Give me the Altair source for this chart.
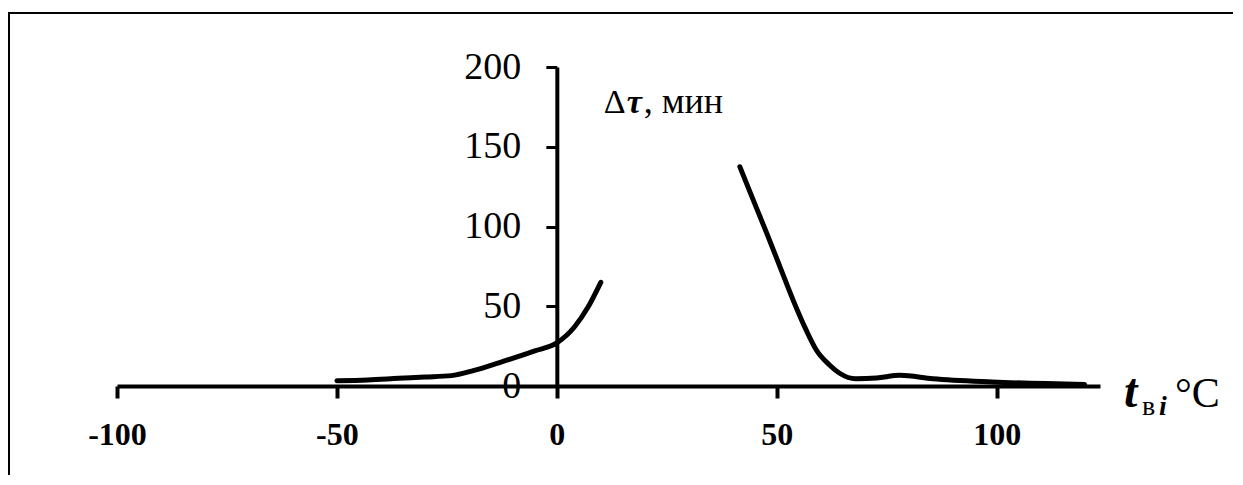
import altair as alt
import pandas as pd

# Curve segment 1 (left branch)
x1 = [-50, -43, -36, -30, -24, -19, -13, -5, 0, 4, 7, 10]
y1 = [3.3, 3.8, 4.8, 5.6, 6.5, 9.6, 14.7, 22, 27, 37, 49, 65]
# Curve segment 2 (right branch)
x2 = [41.6, 44.6, 47.7, 50.7, 53.7, 56.7, 59, 62, 64.3, 68, 72.7, 78, 85.5, 99, 120]
y2 = [137.5, 117, 96, 75, 54, 35, 22.6, 13.2, 8, 4.5, 5, 6.7, 4.5, 2.5, 1]

x_ticks = [-100, -50, 0, 50, 100]
y_ticks = [0, 50, 100, 150, 200]

XMIN, XMAX = -100, 123.5
YMIN, YMAX = 0, 200
W, H = 983, 319
PAD_L, PAD_T = 109, 59
PAD_R = 1225 - PAD_L - W
PAD_B = 467 - PAD_T - H

df = pd.DataFrame({
    "x": x1 + x2,
    "y": y1 + y2,
    "seg": ["a"] * len(x1) + ["b"] * len(x2),
})

xscale = alt.Scale(domain=[XMIN, XMAX], nice=False, zero=False)
yscale = alt.Scale(domain=[YMIN, YMAX], nice=False, zero=False)
y_axis_x = (0 - XMIN) / (XMAX - XMIN) * W

SERIF = "Liberation Serif"

line = alt.Chart(df).mark_line(
    color="black", strokeWidth=5, interpolate="monotone", strokeCap="round"
).encode(
    x=alt.X("x:Q", scale=xscale, axis=alt.Axis(
        values=x_ticks, title=None, grid=False, orient="bottom",
        domainColor="black", domainWidth=4, tickColor="black", tickWidth=4,
        tickSize=12, labelFont=SERIF, labelFontSize=32, labelFontWeight="bold",
        labelColor="black", labelPadding=21, labelFlush=False, labelBaseline="top",
        labelExpr="'' + datum.value")),
    y=alt.Y("y:Q", scale=yscale, axis=alt.Axis(
        values=y_ticks, title=None, grid=False, orient="left", offset=-y_axis_x,
        domainColor="black", domainWidth=4, tickColor="black", tickWidth=3,
        tickSize=11, labelFont=SERIF, labelFontSize=38, labelFontWeight="normal",
        labelColor="black", labelPadding=25, labelFlush=False, labelBaseline="middle")),
    detail="seg:N",
)

def txt(s, dx, dy, size, weight="normal", style="normal", xval=XMAX, yval=0):
    return alt.Chart().mark_text(
        text=s, align="left", baseline="alphabetic", dx=dx, dy=dy,
        font=SERIF, fontSize=size, fontWeight=weight, fontStyle=style, color="black"
    ).encode(x=alt.datum(xval, scale=xscale), y=alt.datum(yval, scale=yscale))

# x-axis title: t_вi °C
t_main = txt("t", 24, 21, 48, "bold", "italic")
t_sub1 = txt("в", 42, 29, 28)
t_sub2 = txt("i", 59, 29, 28, "bold", "italic")
t_deg = txt("°C", 75, 21, 42)

# y-axis title: Δτ, мин
y_d = txt("Δ", 47, 46, 34, xval=0, yval=200)
y_t = txt("τ", 70, 46, 34, "bold", "italic", xval=0, yval=200)
y_r = txt(", мин", 87, 46, 36, xval=0, yval=200)

frame_top = alt.Chart().mark_rule(color="black", strokeWidth=2).encode(
    x=alt.value(-PAD_L), x2=alt.value(W + PAD_R), y=alt.value(-54))
frame_left = alt.Chart().mark_rule(color="black", strokeWidth=2).encode(
    x=alt.value(-PAD_L + 1), y=alt.value(-54), y2=alt.value(H + PAD_B))

chart = alt.layer(
    frame_top, frame_left, line, t_main, t_sub1, t_sub2, t_deg, y_d, y_t, y_r
).properties(
    width=W, height=H,
    autosize=alt.AutoSizeParams(type="none"),
    padding={"left": PAD_L, "top": PAD_T, "right": PAD_R, "bottom": PAD_B},
    background="white",
).configure_view(stroke=None)

chart.save("out.html", embed_options={"renderer": "svg", "actions": False})
